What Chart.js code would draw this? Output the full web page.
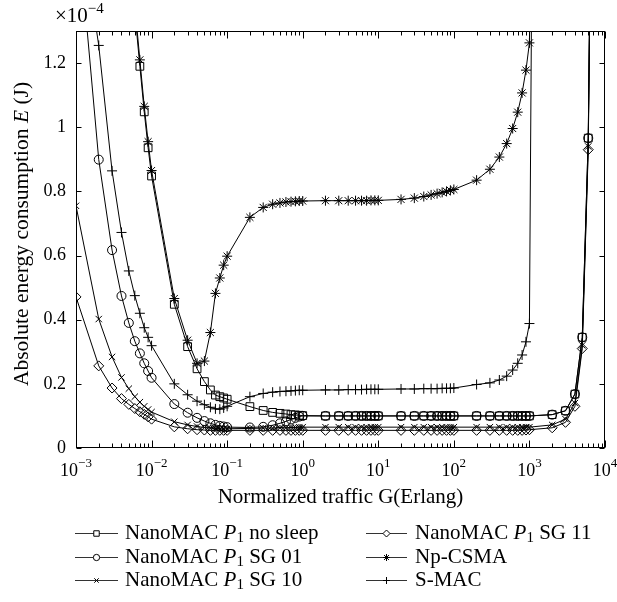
<!DOCTYPE html>
<html>
<head>
<meta charset="utf-8">
<script src="https://cdn.jsdelivr.net/npm/chart.js@4.4.0/dist/chart.umd.min.js"></script>
<style>
  html, body { margin: 0; padding: 0; background: #fff; }
  #wrap { width: 617px; height: 602px; position: relative; }
</style>
</head>
<body>
<div id="wrap"><canvas id="energyChart"></canvas></div>
<script>
// Normalized traffic G (Erlang), sample points of every curve
const trafficG = [
  0.001, 0.002, 0.003, 0.004, 0.005, 0.006, 0.007, 0.008, 0.009,
  0.01, 0.02, 0.03, 0.04, 0.05, 0.06, 0.07, 0.08, 0.09,
  0.1, 0.2, 0.3, 0.4, 0.5, 0.6, 0.7, 0.8, 0.9,
  1, 2, 3, 4, 5, 6, 7, 8, 9,
  10, 20, 30, 40, 50, 60, 70, 80, 90,
  100, 200, 300, 400, 500, 600, 700, 800, 900,
  1000, 2000, 3000, 4000, 5000, 6000, 7000, 8000, 9000
];

// energy, in units of 1e-4 J
const noSleep = [
  null, null, null, null, null, 1.36, 1.19, 1.048, 0.936,
  0.848, 0.448, 0.316, 0.247, 0.207, 0.181, 0.165, 0.16, 0.156,
  0.152, 0.129, 0.117, 0.111, 0.108, 0.106, 0.104, 0.103, 0.102,
  0.101, 0.1, 0.1, 0.1, 0.1, 0.1, 0.1, 0.1, 0.1,
  0.1, 0.1, 0.1, 0.1, 0.1, 0.1, 0.1, 0.1, 0.1,
  0.1, 0.1, 0.1, 0.1, 0.1, 0.1, 0.1, 0.1, 0.1,
  0.1, 0.104, 0.116, 0.168, 0.345, 0.966, 2.4, null, null
];
const sg01 = [
  1.69, 0.899, 0.617, 0.474, 0.39, 0.333, 0.295, 0.264, 0.24,
  0.219, 0.137, 0.11, 0.094, 0.084, 0.077, 0.072, 0.069, 0.067,
  0.065, 0.064, 0.066, 0.071, 0.077, 0.083, 0.089, 0.094, 0.098,
  0.1, 0.1, 0.1, 0.1, 0.1, 0.1, 0.1, 0.1, 0.1,
  0.1, 0.1, 0.1, 0.1, 0.1, 0.1, 0.1, 0.1, 0.1,
  0.1, 0.1, 0.1, 0.1, 0.1, 0.1, 0.1, 0.1, 0.1,
  0.1, 0.104, 0.116, 0.168, 0.345, 0.966, 2.4, null, null
];
const sg10 = [
  0.755, 0.402, 0.284, 0.22, 0.185, 0.16, 0.143, 0.13, 0.12,
  0.112, 0.082, 0.072, 0.067, 0.064, 0.062, 0.061, 0.06, 0.06,
  0.06, 0.061, 0.062, 0.062, 0.063, 0.063, 0.064, 0.064, 0.065,
  0.065, 0.065, 0.065, 0.065, 0.065, 0.065, 0.065, 0.065, 0.065,
  0.065, 0.065, 0.065, 0.065, 0.065, 0.065, 0.065, 0.065, 0.065,
  0.065, 0.065, 0.065, 0.065, 0.065, 0.065, 0.065, 0.065, 0.065,
  0.065, 0.072, 0.09, 0.14, 0.32, 0.94, 2.4, null, null
];
const sg11 = [
  0.471, 0.256, 0.187, 0.154, 0.136, 0.123, 0.113, 0.105, 0.097,
  0.09, 0.066, 0.06, 0.057, 0.056, 0.055, 0.055, 0.055, 0.055,
  0.055, 0.055, 0.055, 0.055, 0.055, 0.055, 0.055, 0.055, 0.055,
  0.055, 0.055, 0.055, 0.055, 0.055, 0.055, 0.055, 0.055, 0.055,
  0.055, 0.055, 0.055, 0.055, 0.055, 0.055, 0.055, 0.055, 0.055,
  0.055, 0.055, 0.055, 0.055, 0.055, 0.055, 0.055, 0.055, 0.056,
  0.057, 0.063, 0.08, 0.13, 0.31, 0.93, 2.4, null, null
];
const npCsma = [
  null, null, null, null, null, 1.38, 1.21, 1.065, 0.955,
  0.865, 0.466, 0.336, 0.264, 0.271, 0.36, 0.482, 0.53, 0.57,
  0.598, 0.719, 0.75, 0.76, 0.764, 0.767, 0.768, 0.769, 0.77,
  0.77, 0.771, 0.771, 0.771, 0.771, 0.771, 0.771, 0.772, 0.772,
  0.772, 0.775, 0.779, 0.784, 0.789, 0.793, 0.797, 0.8, 0.803,
  0.806, 0.835, 0.869, 0.907, 0.949, 0.996, 1.047, 1.107, 1.178,
  1.263, 6, null, null, null, null, null, null, null
];
const sMac = [
  1.73, 1.255, 0.864, 0.672, 0.552, 0.475, 0.42, 0.375, 0.345,
  0.319, 0.2, 0.166, 0.146, 0.135, 0.127, 0.122, 0.121, 0.125,
  0.13, 0.16, 0.17, 0.174, 0.176, 0.177, 0.178, 0.179, 0.18,
  0.18, 0.181, 0.181, 0.182, 0.182, 0.182, 0.183, 0.183, 0.183,
  0.183, 0.184, 0.184, 0.185, 0.185, 0.185, 0.186, 0.186, 0.186,
  0.187, 0.198, 0.203, 0.212, 0.224, 0.243, 0.264, 0.29, 0.331,
  0.388, 11, null, null, null, null, null, null, null
];

const seriesNames = ['NanoMAC P1 no sleep', 'NanoMAC P1 SG 01', 'NanoMAC P1 SG 10',
                     'NanoMAC P1 SG 11', 'Np-CSMA', 'S-MAC'];
const seriesValues = [noSleep, sg01, sg10, sg11, npCsma, sMac];
const seriesMarkers = ['rect', 'circle', 'crossRot', 'rectRot', 'star', 'cross'];
const markerRadius = [5.5, 4.5, 4.5, 5, 5, 5];

const xTickValues = [0.001, 0.01, 0.1, 1, 10, 100, 1000, 10000];
const xTickExps = ['\u22123', '\u22122', '\u22121', '0', '1', '2', '3', '4'];
const yTickValues = [0, 0.2, 0.4, 0.6, 0.8, 1, 1.2];
const yTickLabels = ['0', '0.2', '0.4', '0.6', '0.8', '1', '1.2'];

const SERIF = '"Liberation Serif", "Times New Roman", serif';

// draws a label where "P1" becomes italic P with subscript 1
function drawRich(ctx, str, x, y, size) {
  const parts = str.split('P1');
  let cx = x;
  parts.forEach((p, i) => {
    ctx.font = size + 'px ' + SERIF;
    ctx.fillText(p, cx, y);
    cx += ctx.measureText(p).width;
    if (i < parts.length - 1) {
      ctx.font = 'italic ' + size + 'px ' + SERIF;
      ctx.fillText('P', cx, y);
      cx += ctx.measureText('P').width;
      ctx.font = Math.round(size * 0.7) + 'px ' + SERIF;
      ctx.fillText('1', cx, y + size * 0.25);
      cx += ctx.measureText('1').width;
    }
  });
}

const axesPlugin = {
  id: 'matlabAxes',
  afterDraw(chart) {
    const { ctx, chartArea: a, scales: { x, y } } = chart;
    const L = Math.round(a.left) + 0.5, R = Math.round(a.right) - 0.5;
    const T = Math.round(a.top) + 0.5, B = Math.round(a.bottom) - 0.5;
    ctx.save();
    ctx.strokeStyle = '#000';
    ctx.lineWidth = 1;
    ctx.strokeRect(L, T, R - L, B - T);

    // x ticks, inward, top and bottom
    const xt = trafficG.concat([10000]);
    ctx.beginPath();
    xt.forEach(v => {
      const lg = Math.log10(v);
      const major = Math.abs(lg - Math.round(lg)) < 1e-9;
      const len = major ? 7 : 4;
      const px = Math.round(x.getPixelForValue(v)) + 0.5;
      ctx.moveTo(px, B); ctx.lineTo(px, B - len);
      ctx.moveTo(px, T); ctx.lineTo(px, T + len);
    });
    // y ticks
    yTickValues.forEach(v => {
      const py = Math.round(y.getPixelForValue(v)) + 0.5;
      ctx.moveTo(L, py); ctx.lineTo(L + 5, py);
      ctx.moveTo(R, py); ctx.lineTo(R - 5, py);
    });
    ctx.stroke();

    ctx.fillStyle = '#000';
    // y tick labels
    ctx.textAlign = 'right';
    ctx.textBaseline = 'middle';
    ctx.font = '18px ' + SERIF;
    yTickValues.forEach((v, i) => {
      ctx.fillText(yTickLabels[i], a.left - 10, y.getPixelForValue(v));
    });

    // x tick labels 10^k
    ctx.textAlign = 'left';
    ctx.textBaseline = 'alphabetic';
    xTickValues.forEach((v, i) => {
      ctx.font = '18px ' + SERIF;
      const w1 = ctx.measureText('10').width;
      ctx.font = '13px ' + SERIF;
      const w2 = ctx.measureText(xTickExps[i]).width;
      const sx = x.getPixelForValue(v) - (w1 + w2) / 2;
      ctx.font = '18px ' + SERIF;
      ctx.fillText('10', sx, a.bottom + 28);
      ctx.font = '13px ' + SERIF;
      ctx.fillText(xTickExps[i], sx + w1, a.bottom + 19);
    });

    // exponent factor
    ctx.font = '21px ' + SERIF;
    ctx.fillText('\u00d710', 55, 22);
    const wx = ctx.measureText('\u00d710').width;
    ctx.font = '15px ' + SERIF;
    ctx.fillText('\u22124', 55 + wx, 13);

    // x axis title
    ctx.textAlign = 'center';
    ctx.textBaseline = 'middle';
    ctx.font = '21px ' + SERIF;
    ctx.fillText('Normalized traffic G(Erlang)', (a.left + a.right) / 2, 497);

    // y axis title with italic E
    ctx.save();
    ctx.translate(22, 234);
    ctx.rotate(-Math.PI / 2);
    ctx.textAlign = 'left';
    const segs = [['Absolute energy consumption ', ''], ['E', 'italic '], [' (J)', '']];
    let tw = 0;
    segs.forEach(s => { ctx.font = s[1] + '21.5px ' + SERIF; tw += ctx.measureText(s[0]).width; });
    let cx = -tw / 2;
    segs.forEach(s => {
      ctx.font = s[1] + '21.5px ' + SERIF;
      ctx.fillText(s[0], cx, 0);
      cx += ctx.measureText(s[0]).width;
    });
    ctx.restore();

    // legend, two columns
    const rowsY = [533, 557, 580];
    const cols = [{ x1: 75, x2: 118, tx: 125 }, { x1: 366, x2: 407, tx: 415 }];
    chart.data.datasets.forEach((ds, i) => {
      const col = cols[Math.floor(i / 3)];
      const ry = rowsY[i % 3];
      ctx.strokeStyle = '#333';
      ctx.lineWidth = 1;
      ctx.beginPath();
      ctx.moveTo(col.x1, ry + 0.5);
      ctx.lineTo(col.x2, ry + 0.5);
      ctx.stroke();
      ctx.strokeStyle = '#000';
      ctx.fillStyle = '#fff';
      Chart.helpers.drawPoint(ctx, {
        pointStyle: ds.pointStyle, radius: ds.pointRadius * 0.7,
        borderWidth: 1, rotation: 0
      }, (col.x1 + col.x2) / 2, ry + 0.5);
      ctx.fillStyle = '#000';
      ctx.textAlign = 'left';
      ctx.textBaseline = 'middle';
      drawRich(ctx, ds.label, col.tx, ry, 21);
    });
    ctx.restore();
  }
};

new Chart(document.getElementById('energyChart'), {
  type: 'line',
  data: {
    labels: trafficG,
    datasets: seriesNames.map((name, i) => ({
      label: name,
      data: seriesValues[i].map((v, j) => ({ x: trafficG[j], y: v })),
      borderColor: '#000',
      borderWidth: 1,
      backgroundColor: 'rgba(0,0,0,0)',
      pointStyle: seriesMarkers[i],
      pointRadius: markerRadius[i],
      pointBorderColor: '#000',
      pointBackgroundColor: 'rgba(0,0,0,0)',
      pointBorderWidth: 1,
      tension: 0,
      spanGaps: false
    }))
  },
  options: {
    responsive: true,
    maintainAspectRatio: false,
    animation: false,
    layout: { padding: { left: 76, right: 12, top: 31, bottom: 154 } },
    scales: {
      x: { type: 'logarithmic', min: 0.001, max: 10000, display: false },
      y: { type: 'linear', min: 0, max: 1.3, display: false }
    },
    plugins: {
      legend: { display: false },
      tooltip: { enabled: false }
    }
  },
  plugins: [axesPlugin]
});
</script>
</body>
</html>
